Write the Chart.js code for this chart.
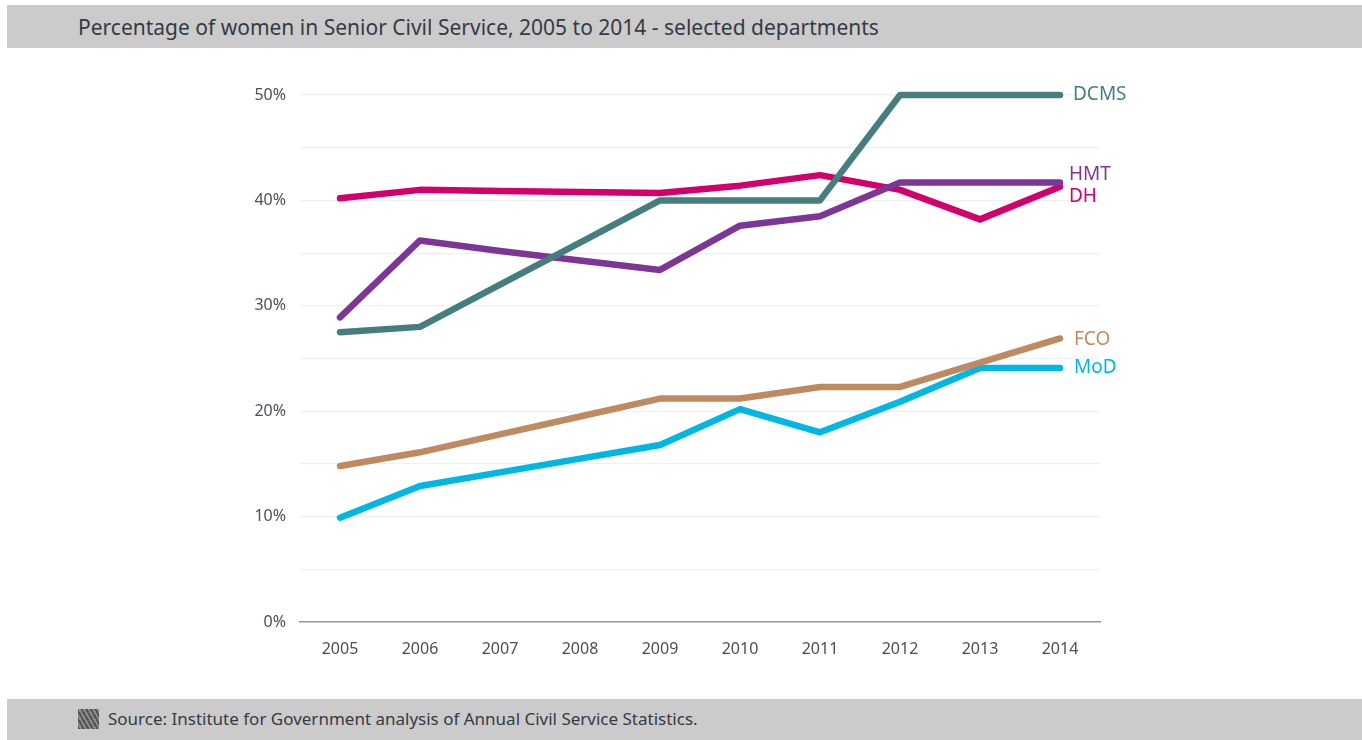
<!DOCTYPE html>
<html>
<head>
<meta charset="utf-8">
<script src="https://cdn.jsdelivr.net/npm/chart.js@4"></script>
<style>
  html, body { margin: 0; padding: 0; background: #fff; }
  #wrap { position: relative; width: 1362px; height: 740px; overflow: hidden; font-family: "Noto Sans", sans-serif; }
  #chart { position: absolute; left: 0; top: 0; }
  .bar { position: absolute; left: 7px; right: 0; background: #cbcbcb; color: #353a44; }
  #title { top: 5px; height: 43px; line-height: 44px; font-size: 21px; padding-left: 71px; }
  #footer { top: 699px; height: 41px; line-height: 40px; font-size: 17px; padding-left: 101px; }
  #icon { position: absolute; left: 71px; top: 10px; width: 21px; height: 20px;
    background: repeating-linear-gradient(60deg, #555 0 2px, #8a8a8a 2px 4px); }
</style>
</head>
<body>
<div id="wrap">
  <canvas id="chart" width="1362" height="740"></canvas>
  <div class="bar" id="title">Percentage of women in Senior Civil Service, 2005 to 2014 - selected departments</div>
  <div class="bar" id="footer"><span id="icon"></span>Source: Institute for Government analysis of Annual Civil Service Statistics.</div>
</div>
<script>
const years = ['2005', '2006', '2007', '2008', '2009', '2010', '2011', '2012', '2013', '2014'];

const dcms = [27.5, 28.0, 32.0, 36.0, 40.0, 40.0, 40.0, 50.0, 50.0, 50.0];
const hmt  = [28.9, 36.2, 35.2, 34.3, 33.4, 37.6, 38.5, 41.7, 41.7, 41.7];
const dh   = [40.2, 41.0, 40.9, 40.8, 40.7, 41.4, 42.4, 41.0, 38.2, 41.3];
const fco  = [14.8, 16.1, 17.8, 19.5, 21.2, 21.2, 22.3, 22.3, 24.6, 26.9];
const mod  = [9.9, 12.9, 14.2, 15.5, 16.8, 20.2, 18.0, 20.9, 24.1, 24.1];

const series = [
  { name: 'DCMS', values: dcms, color: '#467e7f', dy: 0,  dx: 13 },
  { name: 'HMT',  values: hmt,  color: '#7d3596', dy: -8, dx: 9 },
  { name: 'DH',   values: dh,   color: '#d1006d', dy: 10, dx: 9 },
  { name: 'FCO',  values: fco,  color: '#c08a60', dy: 1,  dx: 14 },
  { name: 'MoD',  values: mod,  color: '#00b6e3', dy: 0,  dx: 14 }
];

// labels at the right end of each line
const endLabels = {
  id: 'endLabels',
  afterDatasetsDraw(chart) {
    const ctx = chart.ctx;
    ctx.save();
    ctx.font = '19px "Noto Sans"';
    ctx.textBaseline = 'middle';
    ctx.textAlign = 'left';
    chart.data.datasets.forEach((ds, i) => {
      const pts = chart.getDatasetMeta(i).data;
      const last = pts[pts.length - 1];
      const s = series[i];
      ctx.fillStyle = s.color;
      ctx.fillText(s.name, last.x + s.dx, last.y + s.dy);
    });
    ctx.restore();
  }
};

const ctx = document.getElementById('chart').getContext('2d');
new Chart(ctx, {
  type: 'line',
  data: {
    labels: years,
    datasets: series.map(s => ({
      label: s.name,
      data: s.values,
      borderColor: s.color,
      backgroundColor: s.color,
      borderWidth: 6.5,
      borderCapStyle: 'round',
      borderJoinStyle: 'round',
      pointRadius: 0,
      tension: 0,
      clip: false
    }))
  },
  options: {
    responsive: false,
    animation: false,
    layout: { padding: { left: 0, right: 262, top: 95, bottom: 78 } },
    plugins: { legend: { display: false }, tooltip: { enabled: false } },
    scales: {
      x: {
        offset: true,
        grid: { display: false, drawTicks: false },
        border: { display: true, color: '#9a9a9a', width: 1.5 },
        ticks: { color: '#4a4f58', font: { family: 'Noto Sans', size: 16 }, padding: 18, maxRotation: 0 },
        afterFit(scale) { scale.height = 40; }
      },
      y: {
        min: 0,
        max: 50,
        grid: { color: '#edf1f3', lineWidth: 1.2, drawTicks: false },
        border: { display: false },
        ticks: {
          stepSize: 5,
          color: '#4a4f58',
          font: { family: 'Noto Sans', size: 16 },
          padding: 14,
          callback: v => (v % 10 === 0 ? v + '%' : '')
        },
        afterFit(scale) { scale.width = 300; }
      }
    }
  },
  plugins: [endLabels]
});
</script>
</body>
</html>
